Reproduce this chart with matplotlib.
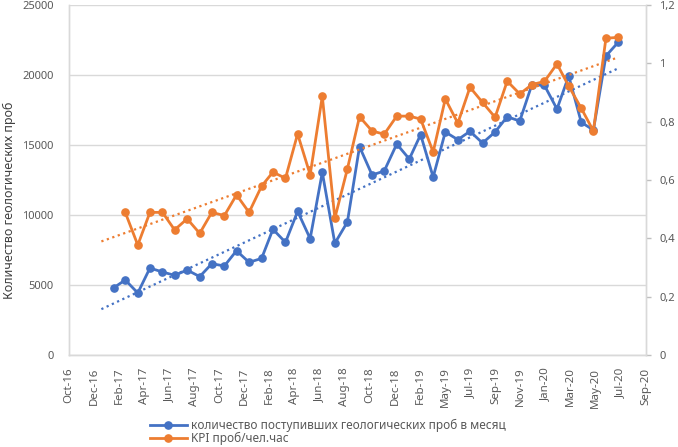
import matplotlib
matplotlib.use('Agg')
import matplotlib.pyplot as plt
import matplotlib.dates as mdates
import numpy as np
import pandas as pd

plt.rcParams['font.family'] = ['Noto Sans', 'DejaVu Sans']

# monthly data, Feb-17 .. Jul-20
months = pd.date_range('2017-02-01', '2020-07-01', freq='MS')
samples = [4810, 5360, 4430, 6210, 5930, 5690, 6070, 5600, 6520, 6360,
           7450, 6620, 6900, 8980, 8050, 10260, 8310, 13050, 7980, 9500,
           14880, 12860, 13140, 15070, 14000, 15740, 12710, 15930, 15380, 15980,
           15140, 15930, 17020, 16710, 19310, 19260, 17570, 19930, 16620, 16070,
           21360, 22330]
# KPI starts one month later (Mar-17)
kpi_months = months[1:]
kpi = [0.489, 0.377, 0.489, 0.489, 0.429, 0.467, 0.417, 0.489, 0.478, 0.549,
       0.489, 0.579, 0.627, 0.606, 0.758, 0.618, 0.887, 0.469, 0.638, 0.817,
       0.768, 0.757, 0.819, 0.819, 0.809, 0.696, 0.878, 0.795, 0.918, 0.866,
       0.815, 0.939, 0.895, 0.927, 0.938, 0.998, 0.922, 0.846, 0.768, 1.086,
       1.089]

x_labels = ['Oct-16', 'Dec-16', 'Feb-17', 'Apr-17', 'Jun-17', 'Aug-17', 'Oct-17',
            'Dec-17', 'Feb-18', 'Apr-18', 'Jun-18', 'Aug-18', 'Oct-18', 'Dec-18',
            'Feb-19', 'May-19', 'Jul-19', 'Sep-19', 'Nov-19', 'Jan-20', 'Mar-20',
            'May-20', 'Jul-20', 'Sep-20']
left_ticks = [0, 5000, 10000, 15000, 20000, 25000]
right_ticks = [0, 0.2, 0.4, 0.6, 0.8, 1.0, 1.2]
right_labels = ['0', '0,2', '0,4', '0,6', '0,8', '1', '1,2']

label_blue = 'количество поступивших геологических проб в месяц'
label_orange = 'KPI проб/чел.час'
ylabel = 'Количество геологических проб'

BLUE = '#4472C4'
ORANGE = '#ED7D31'
GRID = '#d9d9d9'
TXT = '#595959'

fig = plt.figure(figsize=(6.78, 4.47), dpi=100)
ax = fig.add_axes([69 / 678, 1 - 355 / 447, 577 / 678, 350 / 447])
ax2 = ax.twinx()

# Excel date axis: major unit 62 days
tick_dates = pd.date_range('2016-10-13', periods=len(x_labels), freq='62D')
ax.set_xlim(mdates.date2num(tick_dates[0]), mdates.date2num(tick_dates[-1]))

# linear trends (Excel style, 1 period backward forecast)
trend_x = mdates.date2num(pd.date_range('2017-01-01', '2020-07-01', freq='MS'))
xb = mdates.date2num(months)
pb = np.polyfit(xb, samples, 1)
xo = mdates.date2num(kpi_months)
po = np.polyfit(xo, kpi, 1)

ax.plot(trend_x[[0, -1]], np.polyval(pb, trend_x[[0, -1]]), color=BLUE,
        lw=1.6, linestyle=(0, (1, 1.6)), zorder=2)
l1, = ax.plot(xb, samples, color=BLUE, lw=2, marker='o', ms=5.2,
              solid_joinstyle='round', label=label_blue, zorder=3)
ax2.plot(trend_x[[0, -1]], np.polyval(po, trend_x[[0, -1]]), color=ORANGE,
         lw=1.6, linestyle=(0, (1, 1.6)), zorder=2)
l2, = ax2.plot(xo, kpi, color=ORANGE, lw=2, marker='o', ms=5.2,
               solid_joinstyle='round', label=label_orange, zorder=3)

ax.set_ylim(0, 25000)
ax2.set_ylim(0, 1.2)
ax.set_yticks(left_ticks)
ax.set_yticklabels([str(v) for v in left_ticks])
ax2.set_yticks(right_ticks)
ax2.set_yticklabels(right_labels)

ax.set_xticks(mdates.date2num(tick_dates))
ax.set_xticklabels(x_labels, rotation=90)

ax.grid(axis='y', color=GRID, lw=1)
ax.set_axisbelow(True)
for a in (ax, ax2):
    for s in a.spines.values():
        s.set_color(GRID)
        s.set_linewidth(1)
    a.spines['top'].set_visible(False)

ax.tick_params(axis='y', length=0, pad=11, labelsize=8, labelcolor=TXT)
ax.tick_params(axis='x', length=0, pad=9, labelsize=8.3, labelcolor=TXT)
ax2.tick_params(axis='y', length=3.5, width=1, color='#bfbfbf', pad=6,
                labelsize=8, labelcolor=TXT)

fig.text(9 / 678, 1 - 200 / 447, ylabel, rotation=90, ha='center', va='center',
         fontsize=9, color='#404040')

fig.legend(handles=[l1, l2], loc='upper left',
           bbox_to_anchor=(150 / 678, 1 - 419 / 447), frameon=False,
           fontsize=8.5, handlelength=3.1, handletextpad=0.35, labelspacing=0.0,
           borderpad=0, borderaxespad=0, labelcolor=TXT)

fig.savefig('out.png', dpi=100)
